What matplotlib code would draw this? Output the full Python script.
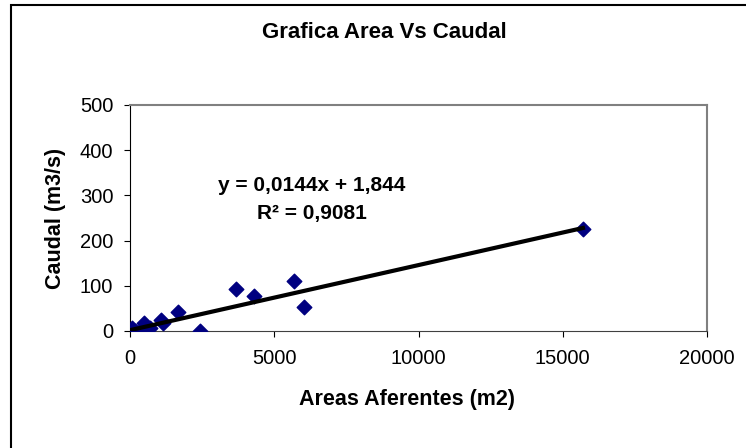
import matplotlib
matplotlib.use('Agg')
import matplotlib.pyplot as plt
from matplotlib.patches import Rectangle
import numpy as np

plt.rcParams['font.family'] = ['Liberation Sans', 'DejaVu Sans']

# Data
areas = [70, 170, 350, 485, 690, 1060, 1150, 1675, 2430, 3675, 4310, 5685, 6040, 15700]
caudal = [7, 0, 0, 17, 6, 24, 17, 41, 0, 93, 77, 111, 54, 225]
slope = 0.0144
intercept = 1.844
x_ticks = [0, 5000, 10000, 15000, 20000]
y_ticks = [0, 100, 200, 300, 400, 500]

W, H = 746, 448
fig = plt.figure(figsize=(W / 100, H / 100), dpi=100)

# outer chart border (only left and top visible in reference)
fig.patches.append(Rectangle((11 / W, -0.05), 1.2, 1 - 5 / H + 0.05,
                             transform=fig.transFigure, fill=False,
                             edgecolor='black', linewidth=1.5))

ax = fig.add_axes([130 / W, 1 - 331 / H, (707 - 130) / W, (331 - 105) / H])

ax.scatter(areas, caudal, marker='D', s=55, color='#000080', zorder=3)

xs = np.array([min(areas), max(areas)])
ax.plot(xs, slope * xs + intercept, color='black', linewidth=3, zorder=4)

ax.set_xlim(0, 20000)
ax.set_ylim(0, 500)
ax.set_xticks(x_ticks)
ax.set_yticks(y_ticks)
ax.tick_params(axis='both', labelsize=14.5, direction='out', length=4, color='black')
ax.tick_params(axis='x', pad=9)
ax.tick_params(axis='y', pad=8)

for side in ['top', 'right']:
    ax.spines[side].set_color('#808080')
    ax.spines[side].set_linewidth(1.5)
ax.spines['bottom'].set_color('#404040')
ax.spines['left'].set_color('black')

ax.set_xlabel('Areas Aferentes (m2)', fontsize=15.5, fontweight='bold')
ax.set_ylabel('Caudal (m3/s)', fontsize=15.5, fontweight='bold')
ax.xaxis.label.set_va('center')
ax.yaxis.label.set_va('center')
ax.xaxis.set_label_coords((407 - 130) / 577, (331 - 399) / 226)
ax.yaxis.set_label_coords((56 - 130) / 577, 0.5)

fig.text(384 / W, 1 - 32 / H, 'Grafica Area Vs Caudal', ha='center', va='center',
         fontsize=16, fontweight='bold')

ax.text(6310, 323, 'y = 0,0144x + 1,844', ha='center', va='center',
        fontsize=15, fontweight='bold')
ax.text(6310, 261, 'R² = 0,9081', ha='center', va='center',
        fontsize=15, fontweight='bold')

fig.savefig('out.png', dpi=100)
